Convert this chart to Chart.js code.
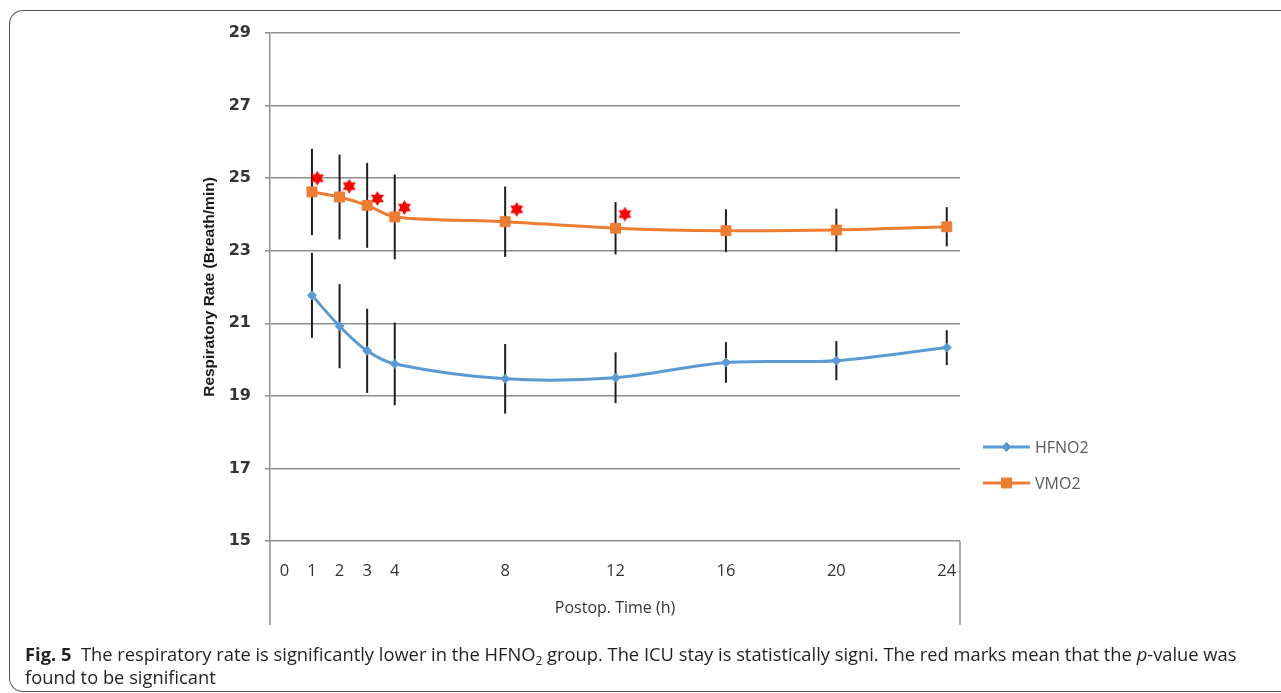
<!DOCTYPE html>
<html><head><meta charset="utf-8">
<script src="https://cdn.jsdelivr.net/npm/chart.js@4/dist/chart.umd.min.js"></script>
<style>
html,body{margin:0;padding:0;background:#fff;width:1281px;height:693px;overflow:hidden;}
#frame{position:absolute;left:9px;top:10px;width:1300px;height:682px;border:1.5px solid #555;border-right:none;border-radius:14px 0 0 14px;box-sizing:border-box;}
#wrap{position:absolute;left:0;top:0;width:1281px;height:693px;}
#cap{position:absolute;left:25px;top:642px;font-family:'Open Sans',sans-serif;font-size:17px;line-height:23px;color:#231f20;white-space:nowrap;}
#cap b{font-weight:700;}
#cap sub{font-size:0.65em;vertical-align:-4px;line-height:0;}
</style></head>
<body>
<div id="frame"></div>
<div id="wrap"><canvas id="c" width="1281" height="693"></canvas></div>
<div id="cap"><span id="l1"><b>Fig.&nbsp;5</b>&nbsp; The respiratory rate is significantly lower in the HFNO<sub>2</sub> group. The ICU stay is statistically signi. The red marks mean that the <i>p</i>-value was</span><br>found to be significant</div>
<script>
// ---- data ----
const hours = [1, 2, 3, 4, 8, 12, 16, 20, 24];
const hfno2 = [21.77, 20.92, 20.24, 19.88, 19.47, 19.50, 19.92, 19.97, 20.33];
const hfno2Err = [1.17, 1.16, 1.16, 1.14, 0.96, 0.70, 0.56, 0.54, 0.48];
const vmo2 = [24.62, 24.48, 24.25, 23.93, 23.80, 23.62, 23.55, 23.57, 23.66];
const vmo2Err = [1.19, 1.17, 1.17, 1.17, 0.97, 0.72, 0.59, 0.59, 0.54];
const sigHours = [1.19, 2.35, 3.37, 4.35, 8.42, 12.34];
const sigValues = [25.0, 24.78, 24.44, 24.19, 24.14, 24.01];
const xTickValues = [0, 1, 2, 3, 4, 8, 12, 16, 20, 24];
const yTicks = [15, 17, 19, 21, 23, 25, 27, 29];
const seriesNames = ['HFNO2', 'VMO2'];

// fit caption first line to the reference width
(function(){
  const cap = document.getElementById('cap'), l1 = document.getElementById('l1');
  const w = l1.getBoundingClientRect().width;
  cap.style.fontSize = (17 * 1212 / w).toFixed(2) + 'px';
})();

function hexagram(size, color){
  const c = document.createElement('canvas'); c.width = c.height = size;
  const g = c.getContext('2d'); g.fillStyle = color;
  const r = size/2, cx = r, cy = r, s = 0.866*r;
  g.beginPath(); g.moveTo(cx, cy-r); g.lineTo(cx+s, cy+r/2); g.lineTo(cx-s, cy+r/2); g.closePath(); g.fill();
  g.beginPath(); g.moveTo(cx, cy+r); g.lineTo(cx+s, cy-r/2); g.lineTo(cx-s, cy-r/2); g.closePath(); g.fill();
  return c;
}
const star = hexagram(15, '#ff0000');

const BLUE = '#5b9bd5', ORANGE = '#ed7d31', GRID = '#8e8e8e';

const extras = {
  id: 'extras',
  beforeDatasetsDraw(chart){
    const ctx = chart.ctx, xs = chart.scales.x, ys = chart.scales.y;
    ctx.save(); ctx.strokeStyle = '#1e1e1e'; ctx.lineWidth = 2;
    [[hfno2, hfno2Err], [vmo2, vmo2Err]].forEach(([vals, errs]) => {
      hours.forEach((h, i) => {
        const x = xs.getPixelForValue(h);
        ctx.beginPath();
        ctx.moveTo(x, ys.getPixelForValue(vals[i] + errs[i]));
        ctx.lineTo(x, ys.getPixelForValue(vals[i] - errs[i]));
        ctx.stroke();
      });
    });
    ctx.restore();
  },
  afterDraw(chart){
    const ctx = chart.ctx, a = chart.chartArea;
    const boxBottom = chart.scales.x.bottom;
    ctx.save(); ctx.strokeStyle = GRID; ctx.lineWidth = 1.5;
    ctx.beginPath(); ctx.moveTo(a.left, a.bottom); ctx.lineTo(a.left, boxBottom); ctx.stroke();
    ctx.beginPath(); ctx.moveTo(a.right, a.bottom); ctx.lineTo(a.right, boxBottom); ctx.stroke();
    // legend
    const ds = chart.data.datasets;
    [0, 1].forEach(i => {
      const d = ds[i];
      const y = a.top + 414 + i*36;
      const x0 = a.right + 23, x1 = a.right + 70;
      ctx.strokeStyle = d.borderColor; ctx.lineWidth = 3;
      ctx.beginPath(); ctx.moveTo(x0, y); ctx.lineTo(x1, y); ctx.stroke();
      ctx.fillStyle = d.backgroundColor; ctx.strokeStyle = d.borderColor; ctx.lineWidth = 1;
      Chart.helpers.drawPoint(ctx, {pointStyle: d.pointStyle, radius: d.pointRadius, rotation: 0, borderWidth: 1}, (x0+x1)/2, y);
      ctx.fillStyle = '#595959'; ctx.font = '16px "Open Sans"'; ctx.textBaseline = 'middle'; ctx.textAlign = 'left';
      ctx.fillText(d.label, x1 + 5, y + 1);
    });
    ctx.restore();
  }
};

new Chart(document.getElementById('c'), {
  type: 'line',
  data: {
    datasets: [
      { label: seriesNames[0], data: hours.map((h, i) => ({x: h, y: hfno2[i]})),
        borderColor: BLUE, backgroundColor: BLUE, borderWidth: 3, tension: 0.3,
        pointStyle: 'rectRot', pointRadius: 4.5, pointBorderWidth: 1 },
      { label: seriesNames[1], data: hours.map((h, i) => ({x: h, y: vmo2[i]})),
        borderColor: ORANGE, backgroundColor: ORANGE, borderWidth: 3, tension: 0.3,
        pointStyle: 'rect', pointRadius: 7, pointBorderWidth: 1 },
      { label: 'p<0.05', data: sigHours.map((h, i) => ({x: h, y: sigValues[i]})),
        showLine: false, pointStyle: star, pointRadius: 7, borderColor: '#ff0000', backgroundColor: '#ff0000' }
    ]
  },
  options: {
    responsive: false, animation: false, devicePixelRatio: 1,
    layout: { padding: { left: 160, top: 33, right: 321, bottom: 68 } },
    plugins: { legend: { display: false }, tooltip: { enabled: false } },
    scales: {
      x: {
        type: 'linear', min: -0.52, max: 24.48,
        afterBuildTicks: s => { s.ticks = xTickValues.map(v => ({value: v})); },
        afterFit: s => { s.height = 84; },
        grid: { display: false, drawTicks: false },
        border: { display: false },
        ticks: { autoSkip: false, maxRotation: 0, padding: 20, color: '#333333',
                 font: { family: 'Open Sans', size: 16.5 } },
        title: { display: true, text: 'Postop. Time (h)', color: '#333333',
                 font: { family: 'Open Sans', size: 16 }, padding: { top: 0, bottom: 7 } }
      },
      y: {
        min: 15, max: 29,
        afterBuildTicks: s => { s.ticks = yTicks.map(v => ({value: v})); },
        afterFit: s => { s.width = 110; },
        grid: { color: GRID, lineWidth: 1.5, tickLength: 5 },
        border: { display: true, color: GRID, width: 1.5 },
        ticks: { padding: 14, color: '#333333', font: { family: 'DejaVu Sans', size: 16, weight: 'bold' } },
        title: { display: true, text: 'Respiratory Rate (Breath/min)', color: '#1a1a1a',
                 font: { family: 'Liberation Sans', size: 15.5, weight: 'bold' }, padding: { top: 40, bottom: 0 } }
      }
    }
  },
  plugins: [extras]
});
</script>
</body></html>
